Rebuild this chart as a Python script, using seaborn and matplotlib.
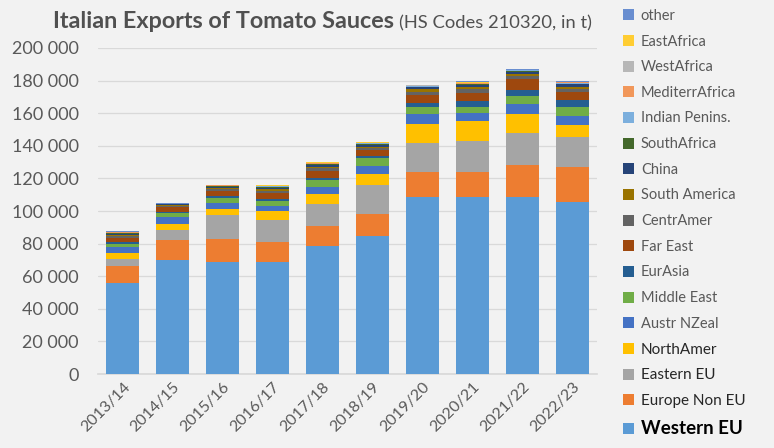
import numpy as np
import pandas as pd
import matplotlib
matplotlib.use("Agg")
import matplotlib.pyplot as plt
from matplotlib.patches import Patch
import seaborn as sns

# season labels
years = ["2013/14", "2014/15", "2015/16", "2016/17", "2017/18",
         "2018/19", "2019/20", "2020/21", "2021/22", "2022/23"]

# exports in tonnes, per destination
western_eu = [56000, 70000, 69000, 68500, 78700, 84800, 108400, 108400, 108400, 105700]
europe_non_eu = [10400, 12200, 13600, 12700, 12300, 13400, 15700, 15700, 19800, 21500]
eastern_eu = [4000, 6100, 14900, 13300, 13300, 17800, 17400, 19000, 19800, 18400]
north_amer = [3800, 3700, 3500, 5500, 5900, 6700, 11900, 12300, 11500, 7200]
austr_nzeal = [3900, 4100, 3700, 3000, 4700, 5100, 6100, 4900, 6100, 5700]
middle_east = [1800, 2500, 3500, 3000, 4100, 4500, 4500, 3700, 4900, 5500]
eurasia = [1200, 1000, 1000, 1500, 1000, 1700, 2400, 3700, 3700, 4100]
far_east = [2500, 3000, 3300, 3500, 4500, 3400, 4800, 4900, 6600, 4700]
centr_amer = [1000, 600, 1000, 1300, 1600, 1000, 2100, 2100, 2000, 2000]
south_america = [800, 400, 800, 1000, 1000, 1100, 1400, 1600, 1200, 1500]
china = [700, 400, 700, 1000, 1200, 1200, 1200, 1200, 1500, 1400]
south_africa = [400, 200, 400, 500, 500, 500, 400, 400, 400, 500]
indian_penins = [300, 100, 200, 300, 300, 300, 300, 300, 400, 500]
mediterr_africa = [300, 100, 200, 300, 200, 300, 200, 200, 200, 300]
west_africa = [200, 100, 100, 200, 200, 200, 200, 200, 200, 200]
east_africa = [100, 100, 100, 300, 300, 200, 100, 700, 100, 200]
other = [500, 100, 100, 200, 200, 300, 200, 200, 300, 400]

regions = ["Western EU", "Europe Non EU", "Eastern EU", "NorthAmer", "Austr NZeal",
           "Middle East", "EurAsia", "Far East", "CentrAmer", "South America", "China",
           "SouthAfrica", "Indian Penins.", "MediterrAfrica", "WestAfrica", "EastAfrica", "other"]
series = [western_eu, europe_non_eu, eastern_eu, north_amer, austr_nzeal, middle_east,
          eurasia, far_east, centr_amer, south_america, china, south_africa,
          indian_penins, mediterr_africa, west_africa, east_africa, other]
colors = ["#5B9BD5", "#ED7D31", "#A5A5A5", "#FFC000", "#4472C4", "#70AD47",
          "#255E91", "#9E480E", "#636363", "#997300", "#264478", "#43682B",
          "#7CAFDD", "#F1975A", "#B7B7B7", "#FFCD33", "#698ED0"]

df = pd.DataFrame(dict(zip(regions, series)), index=years)
cum = df.cumsum(axis=1)

sns.set_theme(style="white")
plt.rcParams["font.family"] = ["Lato", "DejaVu Sans"]
bg = "#F2F2F2"
txt = "#595959"

fig = plt.figure(figsize=(7.74, 4.48), dpi=100, facecolor=bg)
ax = fig.add_axes([98 / 774, 74 / 448, 499 / 774, 326 / 448], facecolor=bg)

# stacked bars: draw cumulative totals from the top layer down
for reg, col in reversed(list(zip(regions, colors))):
    sns.barplot(x=years, y=cum[reg].values, color=col, saturation=1,
                width=0.66, ax=ax, zorder=3, linewidth=0)

ax.set_ylim(0, 200000)
ax.set_yticks(np.arange(0, 200001, 20000))
ax.set_yticklabels([f"{v:,}".replace(",", " ") for v in range(0, 200001, 20000)])
ax.grid(axis="y", color="#D9D9D9", linewidth=0.9, zorder=0)
ax.set_axisbelow(True)
for s in ["top", "right", "left"]:
    ax.spines[s].set_visible(False)
ax.spines["bottom"].set_color("#D9D9D9")
ax.tick_params(axis="y", length=0, labelsize=13, labelcolor=txt, pad=14)
ax.tick_params(axis="x", length=0, labelsize=11.5, labelcolor=txt, pad=4)
for lab in ax.get_xticklabels():
    lab.set_rotation(45)
    lab.set_ha("right")
    lab.set_rotation_mode("anchor")
ax.set_xlabel("")
ax.set_ylabel("")

# title in two parts
t1 = fig.text(53 / 774, 1 - 28 / 448, "Italian Exports of Tomato Sauces", fontsize=16.8,
              fontweight="bold", color="#505050", va="baseline")
fig.canvas.draw()
bb = t1.get_window_extent()
fig.text((bb.x1 + 5) / 774, 1 - 28 / 448, "(HS Codes 210320, in t)", fontsize=13.2,
         color="#505050", va="baseline")

handles = [Patch(facecolor=c, edgecolor="none") for c in colors][::-1]
leg = fig.legend(handles, regions[::-1], loc="upper left",
                 bbox_to_anchor=(617 / 774, 1 - 3 / 448), frameon=False,
                 fontsize=10.5, handlelength=0.78, handleheight=0.78,
                 handletextpad=0.45, labelspacing=0.8, borderaxespad=0)
texts = leg.get_texts()
for t in texts:
    t.set_color(txt)
for t in texts[-4:-1]:
    t.set_fontsize(11)
    t.set_color("#262626")
texts[-1].set_fontsize(13.5)
texts[-1].set_fontweight("bold")
texts[-1].set_color("#000000")

fig.savefig("out.png", dpi=100, facecolor=bg)
